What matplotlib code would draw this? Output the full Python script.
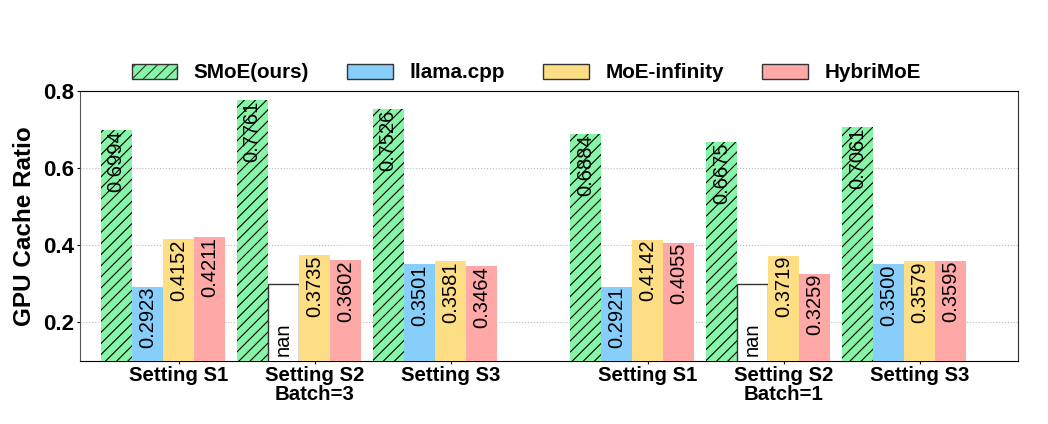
import numpy as np
import matplotlib
matplotlib.use("Agg")
import matplotlib.pyplot as plt
from matplotlib.patches import Patch

plt.rcParams['font.family'] = ['Liberation Sans', 'DejaVu Sans']
plt.rcParams['hatch.linewidth'] = 0.8

# data
methods = ['SMoE(ours)', 'llama.cpp', 'MoE-infinity', 'HybriMoE']
settings = ['Setting S1', 'Setting S2\nBatch=3', 'Setting S3',
            'Setting S1', 'Setting S2\nBatch=1', 'Setting S3']
smoe = [0.6994, 0.7761, 0.7526, 0.6884, 0.6675, 0.7061]
llama = [0.2923, np.nan, 0.3501, 0.2921, np.nan, 0.3500]
moe_inf = [0.4152, 0.3735, 0.3581, 0.4142, 0.3719, 0.3579]
hybri = [0.4211, 0.3602, 0.3464, 0.4055, 0.3259, 0.3595]

colors = ['#86F5A8', '#87CEFA', '#FDDE85', '#FFA8A8']
nan_height = 0.3   # placeholder bar for missing results

x = np.array([0, 1, 2, 3.45, 4.45, 5.45])
w = 0.229

fig = plt.figure(figsize=(10.48, 4.24), dpi=100)
ax = fig.add_axes([0.0763, 0.1493, 0.8951, 0.6361])

series = [smoe, llama, moe_inf, hybri]
for i, vals in enumerate(series):
    for xi, v in zip(x, vals):
        pos = xi + i * w
        if np.isnan(v):
            ax.bar(pos, nan_height, w, align='edge', color='white',
                   edgecolor='#333333', linewidth=1.0, zorder=3)
            ax.text(pos + w / 2, 0.2, 'nan', rotation=90, ha='center',
                    va='top', fontsize=14.5, zorder=4)
            continue
        if i == 0:
            ax.bar(pos, v, w, align='edge', color=colors[i], edgecolor='black',
                   linewidth=0, hatch='///', zorder=3)
        else:
            ax.bar(pos, v, w, align='edge', color=colors[i], linewidth=0, zorder=3)
        ax.text(pos + w / 2, v, f'{v:.4f}', rotation=90, ha='center',
                va='top', fontsize=14.5, zorder=4)

ax.set_ylim(0.1, 0.8)
ax.set_xlim(-0.152, 6.745)
ax.set_yticks([0.2, 0.4, 0.6, 0.8])
ax.set_yticklabels(['0.2', '0.4', '0.6', '0.8'], fontsize=16, fontweight='bold')
ax.set_xticks(x + 2.5 * w)
ax.set_xticklabels(settings, fontsize=14.7, fontweight='bold', linespacing=1.0)
ax.tick_params(axis='x', length=2, pad=2)
ax.tick_params(axis='y', length=2, pad=2)
ax.set_ylabel('GPU Cache Ratio', fontsize=17.5, fontweight='bold', labelpad=5)
ax.grid(axis='y', linestyle=':', color='#bbbbbb', linewidth=0.8, zorder=0)
ax.spines['left'].set_color('#555555')
ax.spines['right'].set_color('#333333')

handles = [Patch(facecolor=colors[0], edgecolor='#333333', hatch='///', label=methods[0])]
handles += [Patch(facecolor=c, edgecolor='#333333', label=m)
            for c, m in zip(colors[1:], methods[1:])]
fig.legend(handles=handles, loc='center', bbox_to_anchor=(0.502, 0.828),
           ncol=4, frameon=False, prop={'size': 14.9, 'weight': 'bold'},
           handlelength=2.2, handleheight=0.75, handletextpad=0.8,
           columnspacing=1.85)

fig.savefig('out.png', dpi=100)
